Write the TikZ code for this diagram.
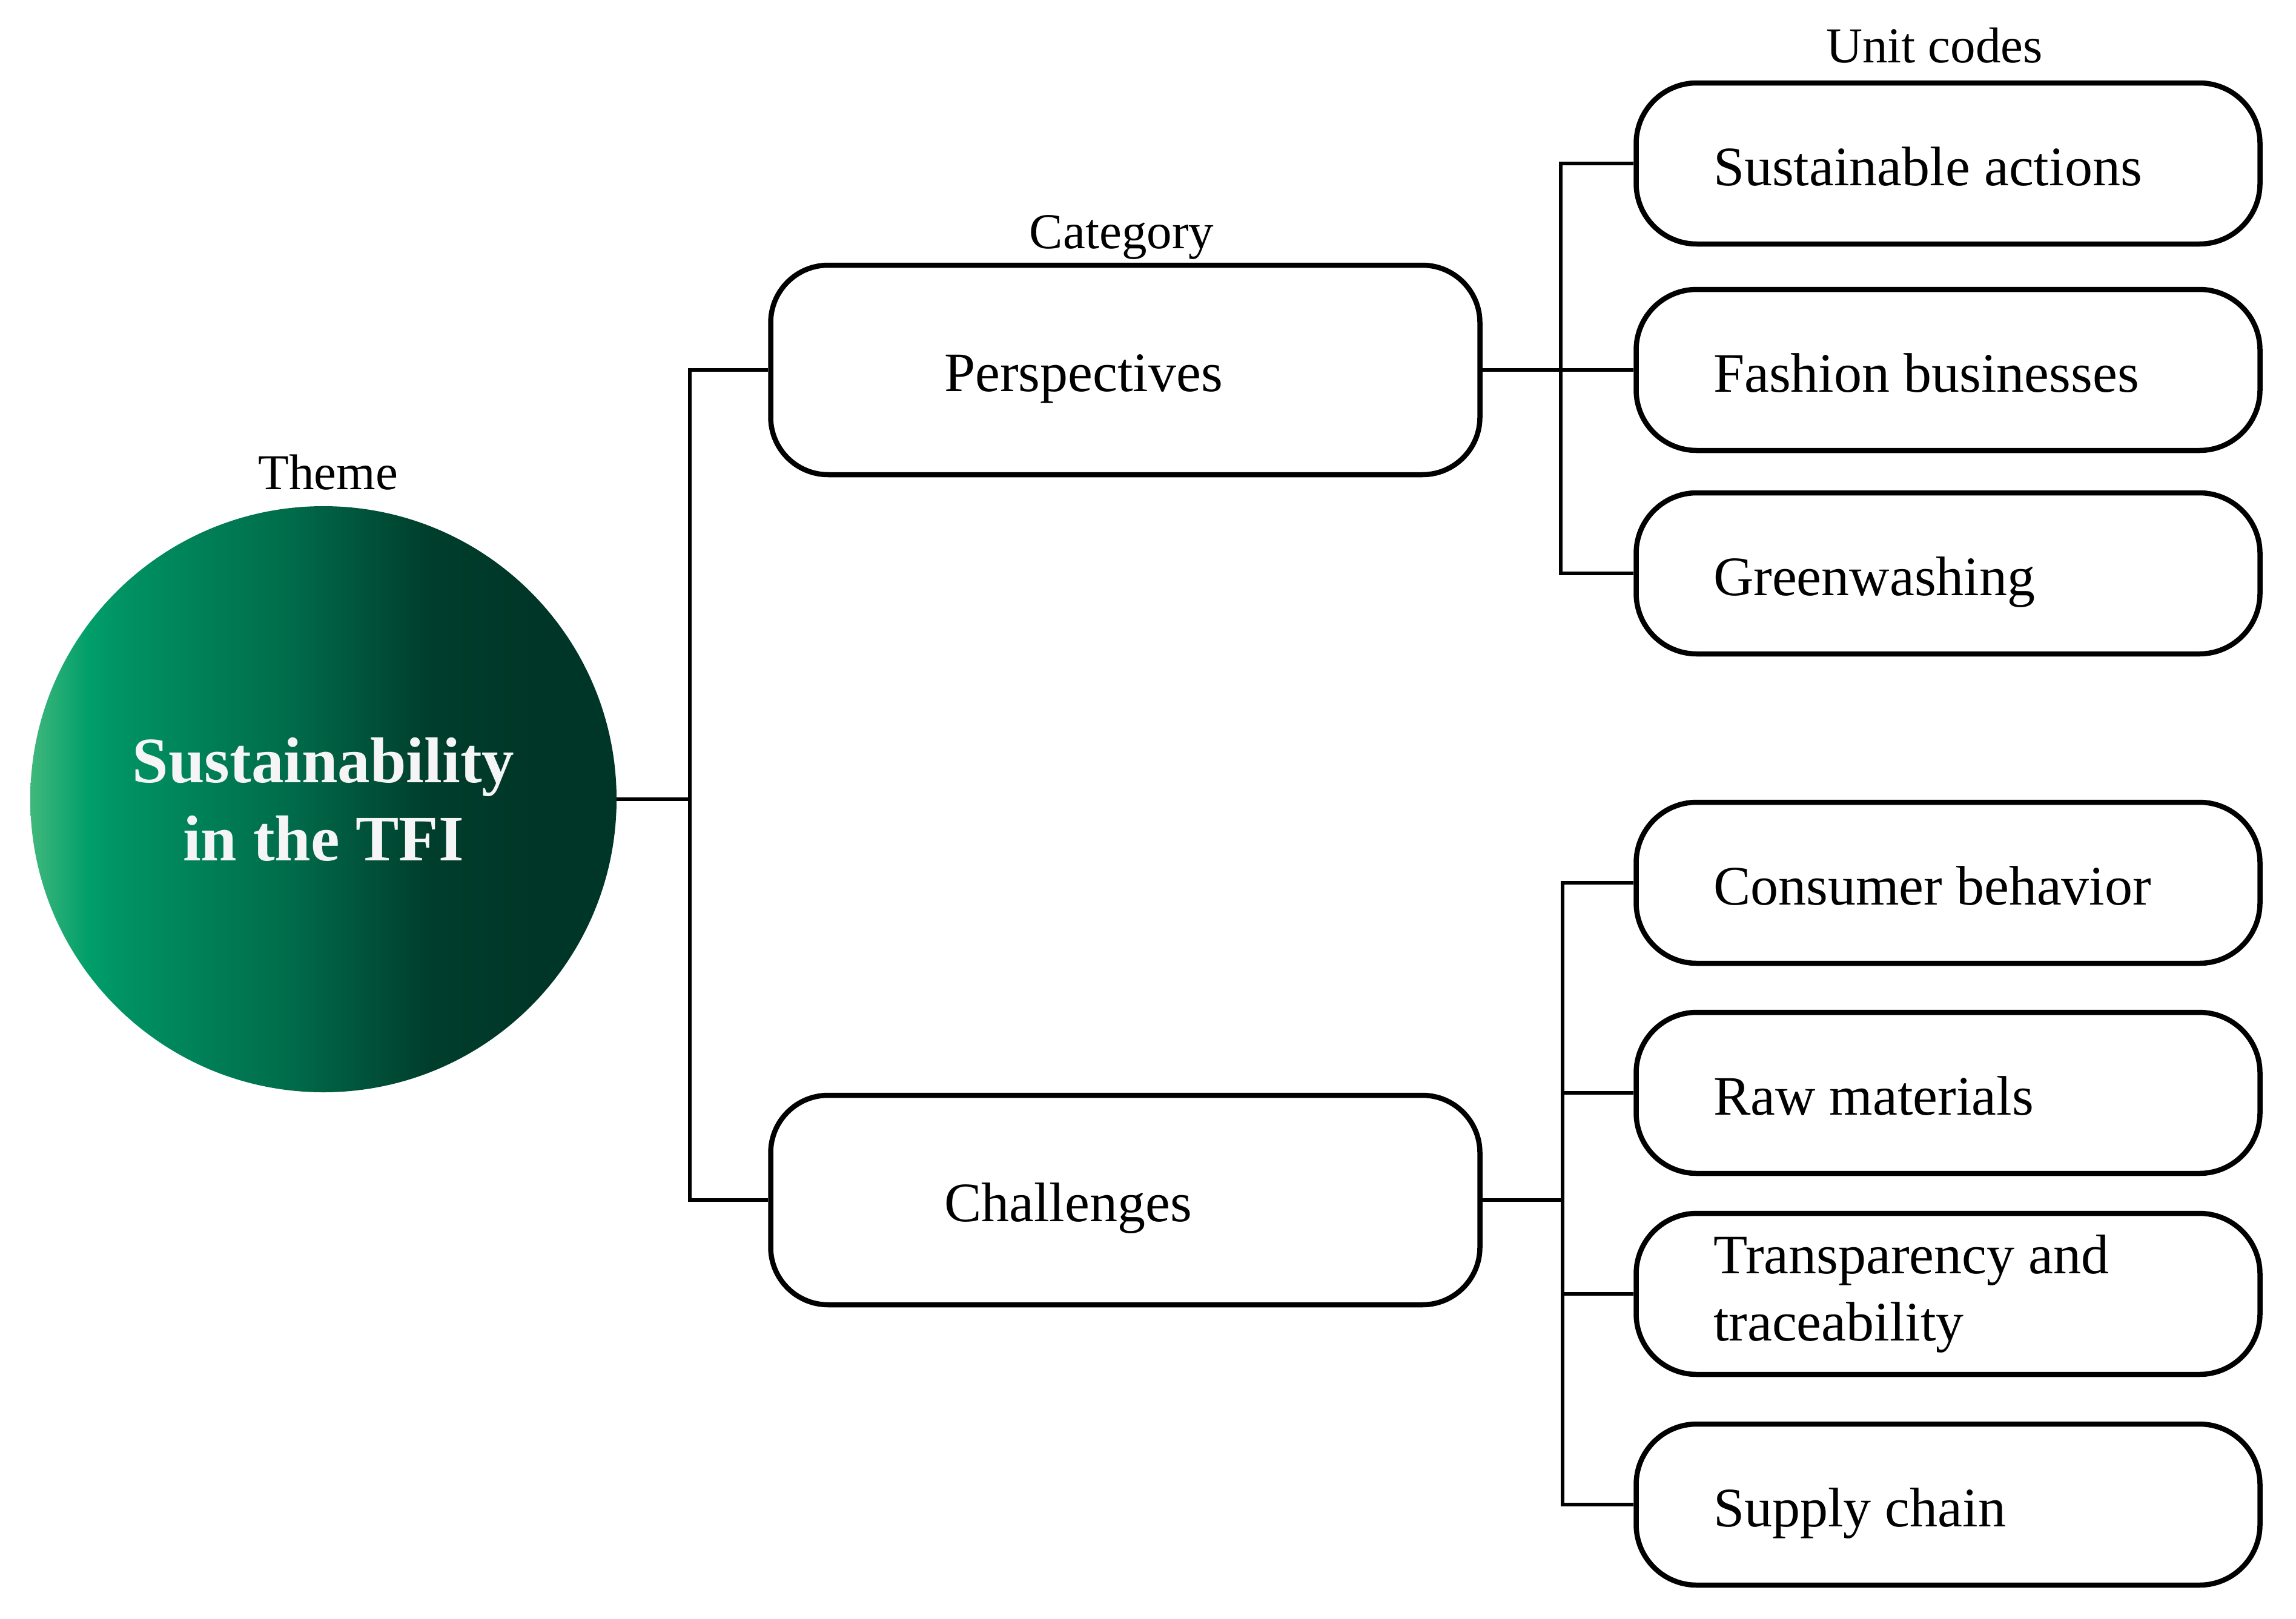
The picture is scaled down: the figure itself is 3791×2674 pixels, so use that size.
\documentclass[tikz,border=0pt]{standalone}
\usepackage{fontspec}
\setmainfont{Liberation Serif}
\definecolor{gA}{RGB}{64,184,124}
\definecolor{gB}{RGB}{0,158,106}
\definecolor{gC}{RGB}{0,146,98}
\definecolor{gD}{RGB}{0,108,74}
\definecolor{gE}{RGB}{0,62,44}
\definecolor{gF}{RGB}{0,54,39}
\definecolor{circtext}{RGB}{245,245,245}
\pgfdeclarehorizontalshading{themegrad}{100bp}{color(0bp)=(gA); color(25bp)=(gA); color(30bp)=(gB); color(33bp)=(gC); color(47bp)=(gD); color(59bp)=(gE); color(68bp)=(gF); color(100bp)=(gF)}
\tikzset{
  catbox/.style={draw, line width=8.5pt, rounded corners=95pt,
    minimum width=1171pt, minimum height=346pt,
    inner xsep=286.5pt, text width=598pt, align=flush left,
    font=\fontsize{92}{111}\selectfont, text height=70pt, text depth=0pt},
  unitbox/.style={draw, line width=8.5pt, rounded corners=100pt,
    minimum width=1030pt, minimum height=266pt,
    inner xsep=127.5pt, text width=775pt, align=flush left,
    font=\fontsize{92}{111}\selectfont},
  oneline/.style={text height=72pt, text depth=0pt},
  headlabel/.style={font=\fontsize{83}{96}\selectfont, anchor=base, inner sep=0pt},
  conn/.style={line width=6.5pt},
}
\begin{document}
\begin{tikzpicture}[x=1pt,y=-1pt]
\useasboundingbox (0,0) rectangle (3791,2674);

% theme
\node[circle, minimum size=968pt, inner sep=0pt, shading=themegrad, draw=none,
      text=circtext, align=center, font=\fontsize{107}{129}\selectfont\bfseries]
  (theme) at (534,1320) {Sustainability\\in the TFI};
\node[headlabel] (lbltheme) at (542,808) {Theme};

% categories
\node[catbox] (persp) at (1858,611) {Perspectives};
\node[catbox] (chall) at (1858,1982) {Challenges};
\node[headlabel] (lblcat) at (1852,410) {Category};

% unit codes
\node[unitbox, oneline] (u1) at (3216.5,270) {Sustainable actions};
\node[unitbox, oneline] (u2) at (3216.5,611) {Fashion businesses};
\node[unitbox, oneline] (u3) at (3216.5,947) {Greenwashing};
\node[unitbox, oneline] (u4) at (3216.5,1458) {Consumer behavior};
\node[unitbox, oneline] (u5) at (3216.5,1805) {Raw materials};
\node[unitbox] (u6) at (3216.5,2137) {Transparency and\\traceability};
\node[unitbox, oneline] (u7) at (3216.5,2485) {Supply chain};
\node[headlabel] (lblunit) at (3194,103) {Unit codes};

% connectors
\coordinate (j1) at (1139,1320);
\coordinate (j2) at (2577,611);
\coordinate (j3) at (2580,1982);

\draw[conn] (theme.east) -- (j1);
\draw[conn] (persp.west) -| (j1) |- (chall.west);

\draw[conn] (persp.east) -- (u2.west);
\draw[conn] (u1.west) -| (j2) |- (u3.west);

\draw[conn] (chall.east) -- (j3);
\draw[conn] (u4.west) -| (j3) |- (u7.west);
\draw[conn] (u5.west) -- (u5.west -| j3);
\draw[conn] (u6.west) -- (u6.west -| j3);
\end{tikzpicture}
\end{document}
